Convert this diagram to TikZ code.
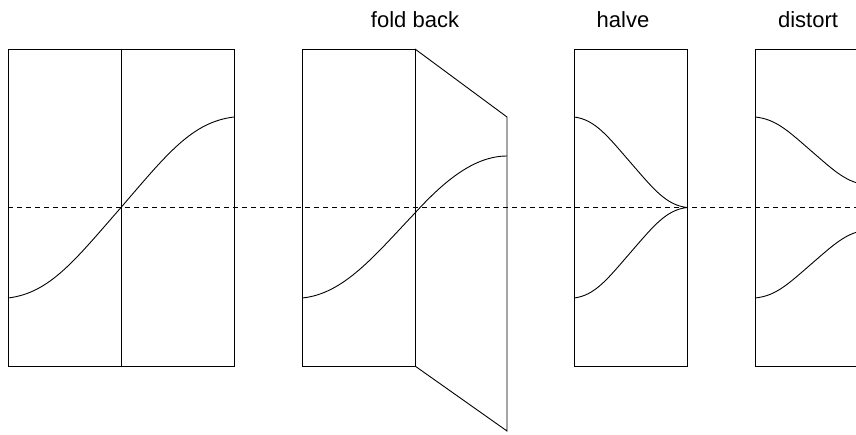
\documentclass[tikz,border=0pt]{standalone}
\usepackage{fontspec}
\setmainfont{Liberation Sans}
\usepackage{xcolor}
\usepackage{tikz}

\begin{document}
\begin{tikzpicture}[x=1pt, y=-1pt, line width=0.9pt,
titel/.style={anchor=base, inner sep=0pt, font=\fontsize{22}{26}\selectfont},
mittellinie/.style={dash pattern=on 5pt off 4pt},
]
\useasboundingbox (0,0) rectangle (856,434);
\clip (0,0) rectangle (856,434);

\draw[mittellinie] (8,207.5) -- (870,207.5);

% ungefaltet
\draw (8,49) rectangle (234,366);
\draw (121,49) -- (121,366);
\draw (8,298) .. controls (50,293) and (75,260) .. (121,207.5)
  .. controls (167,154) and (192,122) .. (234,117);

% fold back
\node[titel] (falten) at (415,27) {fold back};
\draw (302,49) rectangle (415,366);
\draw (415,49) -- (507,117) -- (507,431) -- (415,366);
\draw (302,298) .. controls (344,294) and (375,255) .. (415,213)
  .. controls (445,180) and (475,156) .. (507,156);

% halve
\node[titel] (halbieren) at (623,27) {halve};
\draw (574,49) rectangle (687,366);
\draw (574,117) .. controls (595,119.5) and (607.5,136) .. (630.5,162.5)
  .. controls (653.5,189) and (666,205) .. (687,207.5);
\draw (574,298) .. controls (595,295.5) and (607.5,279) .. (630.5,252.5)
  .. controls (653.5,226) and (666,210) .. (687,207.5);

% distort
\node[titel] (verzerren) at (808,27) {distort};
\draw (755,49) rectangle (868,366);
\draw (755,117) .. controls (776,119) and (788.5,131.3) .. (811.5,151.2)
  .. controls (834.5,171.1) and (847,183.2) .. (868,185);
\draw (755,298) .. controls (776,296) and (788.5,283.7) .. (811.5,263.8)
  .. controls (834.5,243.9) and (847,231.8) .. (868,230);

\end{tikzpicture}
\end{document}
